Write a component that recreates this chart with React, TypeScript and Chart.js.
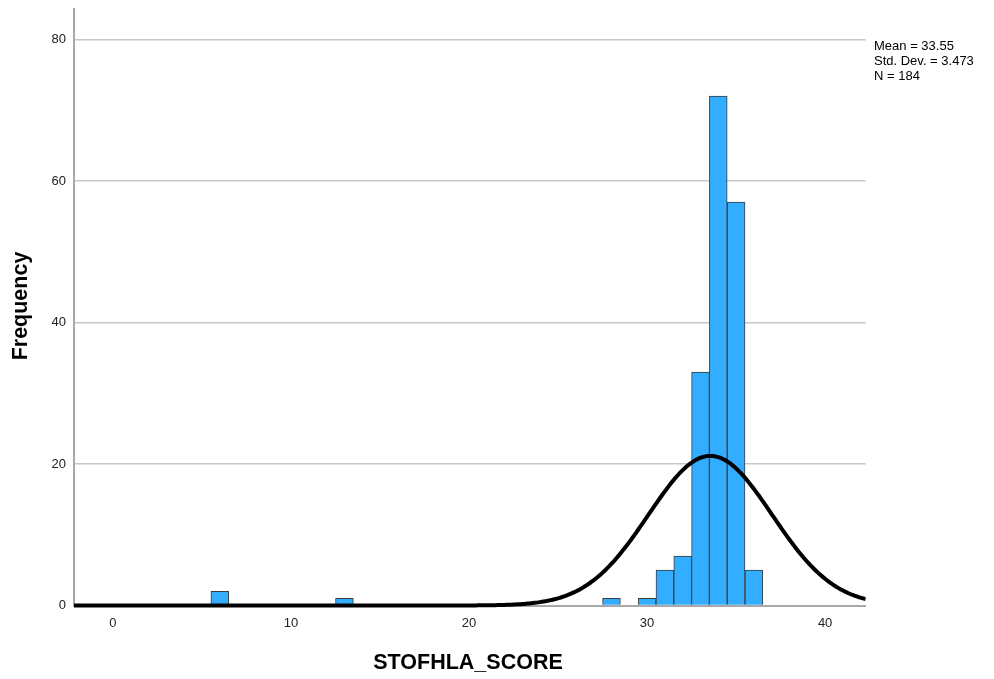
import { useEffect, useRef } from "react";
import { Chart, registerables } from "chart.js";

Chart.register(...registerables);

// Histogram of STOFHLA scores (bin width 1) with fitted normal curve
const scoreBins = [6, 13, 28, 30, 31, 32, 33, 34, 35, 36];
const frequencies = [2, 1, 1, 1, 5, 7, 33, 72, 57, 5];
const xTickValues = [0, 10, 20, 30, 40];
const yTickValues = [0, 20, 40, 60, 80];

// Summary statistics shown in the legend box
const mean = 33.55;
const stdDev = 3.473;
const count = 184;
const binWidth = 1;

const xMin = -2.19;
const xMax = 42.28;
const yMax = 84.3;

const FONT = "'Liberation Sans', Arial, sans-serif";

// Normal density scaled to frequency units (N * bin width * pdf)
function normalCurve() {
  const pts: { x: number; y: number }[] = [];
  const steps = 445;
  for (let i = 0; i <= steps; i++) {
    const x = xMin + ((xMax - xMin) * i) / steps;
    const z = (x - mean) / stdDev;
    const y = (count * binWidth * Math.exp(-0.5 * z * z)) / (stdDev * Math.sqrt(2 * Math.PI));
    pts.push({ x, y });
  }
  return pts;
}

const annotations = {
  id: "histAnnotations",
  afterDraw(chart: Chart) {
    const ctx = chart.ctx;
    ctx.save();
    ctx.fillStyle = "#000";
    ctx.font = `bold 21.5px ${FONT}`;
    ctx.textAlign = "center";
    ctx.textBaseline = "middle";
    ctx.fillText("STOFHLA_SCORE", 468, 663);
    ctx.save();
    ctx.translate(21, 306);
    ctx.rotate(-Math.PI / 2);
    ctx.fillText("Frequency", 0, 0);
    ctx.restore();

    ctx.font = `13px ${FONT}`;
    ctx.textAlign = "left";
    const lines = [
      `Mean = ${mean.toFixed(2)}`,
      `Std. Dev. = ${stdDev.toFixed(3)}`,
      `N = ${count}`,
    ];
    lines.forEach((t, i) => ctx.fillText(t, 874, 46.5 + i * 15));
    ctx.restore();
  },
};

export default function App() {
  const canvasRef = useRef<HTMLCanvasElement | null>(null);

  useEffect(() => {
    document.body.style.margin = "0";
    const canvas = canvasRef.current;
    if (!canvas) return;
    const chart = new Chart(canvas, {
      type: "bar",
      data: {
        datasets: [
          {
            type: "line",
            label: "Normal",
            data: normalCurve(),
            borderColor: "#000",
            borderWidth: 4,
            pointRadius: 0,
            tension: 0,
            fill: false,
            order: 0,
            clip: { left: 0, top: 0, right: 0, bottom: 4 },
          } as any,
          {
            type: "bar",
            label: "Frequency",
            data: scoreBins.map((x, i) => ({ x, y: frequencies[i] })),
            backgroundColor: "#33adff",
            borderColor: "#3c3c3c",
            borderWidth: 1,
            barPercentage: 1,
            categoryPercentage: 1,
            order: 1,
          } as any,
        ],
      },
      options: {
        animation: false,
        responsive: false,
        events: [],
        layout: { padding: { left: 0, top: 9, right: 128.3, bottom: 0 } },
        plugins: { legend: { display: false }, tooltip: { enabled: false } },
        scales: {
          x: {
            type: "linear",
            min: xMin,
            max: xMax,
            offset: false,
            afterBuildTicks: (s: any) => {
              s.ticks = xTickValues.map((v) => ({ value: v }));
            },
            afterFit: (s: any) => {
              s.height = 73.5;
              s.paddingLeft = 0;
              s.paddingRight = 0;
            },
            grid: { display: false, drawTicks: false, offset: false },
            border: { display: true, color: "#a8a8a8", width: 2 },
            ticks: {
              padding: 10,
              color: "#222",
              font: { family: FONT, size: 13 },
              maxRotation: 0,
            },
          },
          y: {
            type: "linear",
            min: 0,
            max: yMax,
            afterBuildTicks: (s: any) => {
              s.ticks = yTickValues.map((v) => ({ value: v }));
            },
            afterFit: (s: any) => {
              s.width = 74;
              s.paddingTop = 0;
              s.paddingBottom = 0;
            },
            grid: { color: "#c8c8c8", lineWidth: 1.5, drawTicks: false },
            border: { display: true, color: "#a8a8a8", width: 2 },
            ticks: {
              padding: 8,
              color: "#222",
              font: { family: FONT, size: 13 },
            },
          },
        },
      },
      plugins: [annotations],
    });
    return () => chart.destroy();
  }, []);

  return (
    <div style={{ width: 994, height: 679, background: "#fff" }}>
      <canvas ref={canvasRef} width={994} height={679} style={{ display: "block" }} />
    </div>
  );
}
